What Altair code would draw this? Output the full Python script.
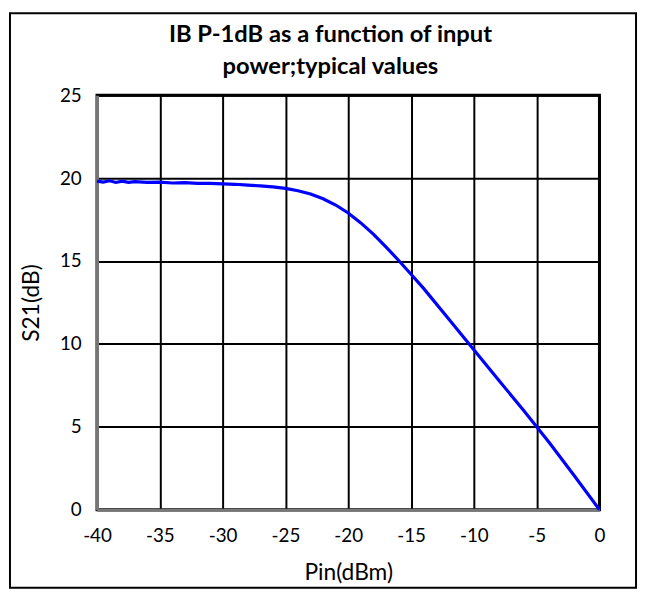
import altair as alt
import pandas as pd

pin_dbm = [-40, -39.5, -39, -38.5, -38, -37.5, -37, -36, -35, -34, -33, -32, -31, -30,
           -29, -28, -27, -26, -25, -24, -23, -22, -21, -20, -19, -18, -17, -16,
           -15, -14, -12, -10, -8, -6, -5, -4, -2, 0]
s21_db = [19.82, 19.76, 19.84, 19.74, 19.82, 19.75, 19.79, 19.75, 19.76, 19.71, 19.73, 19.69, 19.69, 19.66,
          19.63, 19.58, 19.53, 19.47, 19.38, 19.24, 19.04, 18.76, 18.38, 17.9, 17.3, 16.62, 15.85, 15.05,
          14.2, 13.35, 11.5, 9.65, 7.8, 5.95, 5.0, 4.05, 2.05, 0]

x_ticks = [-40, -35, -30, -25, -20, -15, -10, -5, 0]
y_ticks = [0, 5, 10, 15, 20, 25]
title_lines = ["IB P-1dB as a function of input", "power;typical values"]

df = pd.DataFrame({"pin": pin_dbm, "s21": s21_db})

FONT = "Lato"

line = alt.Chart(df).mark_line(color="#0000FF", strokeWidth=3.2).encode(
    x=alt.X("pin:Q", scale=alt.Scale(domain=[-40, 0], nice=False),
            axis=alt.Axis(values=x_ticks, title="Pin(dBm)", titlePadding=17,
                          labelPadding=17, labelFlush=False,
                          labelExpr="'' + datum.value")),
    y=alt.Y("s21:Q", scale=alt.Scale(domain=[0, 25], nice=False),
            axis=alt.Axis(values=y_ticks, title="S21(dB)", titlePadding=16,
                          labelPadding=16, labelFlush=False,
                          labelExpr="'' + datum.value")),
)

frame = alt.Chart(pd.DataFrame({"k": [0]})).mark_rect(
    filled=False, stroke="black", strokeWidth=2
).encode(
    x=alt.value(-88), x2=alt.value(545), y=alt.value(-83), y2=alt.value(498)
)

title = alt.Chart(pd.DataFrame({"t": ["\n".join(title_lines)]})).mark_text(
    font=FONT, fontSize=24, fontWeight="bold", color="black",
    lineBreak="\n", lineHeight=33, align="center", baseline="alphabetic"
).encode(
    text="t:N", x=alt.value(236), y=alt.value(-54)
)

chart = alt.layer(line, frame, title).properties(
    width=508,
    height=419,
    autosize=alt.AutoSizeParams(type="none"),
    padding={"left": 90, "top": 85, "right": 40, "bottom": 82},
    background="white",
).configure_view(
    stroke="black", strokeWidth=3
).configure_axis(
    grid=True, gridColor="black", gridWidth=2, gridOpacity=1,
    ticks=False, domain=True, domainColor="#777777", domainWidth=3,
    labelFont=FONT, labelFontSize=19, labelColor="black",
    titleFont=FONT, titleFontSize=23, titleFontWeight="normal", titleColor="black",
)

chart.save("out.html", embed_options={"renderer": "svg", "actions": False})
